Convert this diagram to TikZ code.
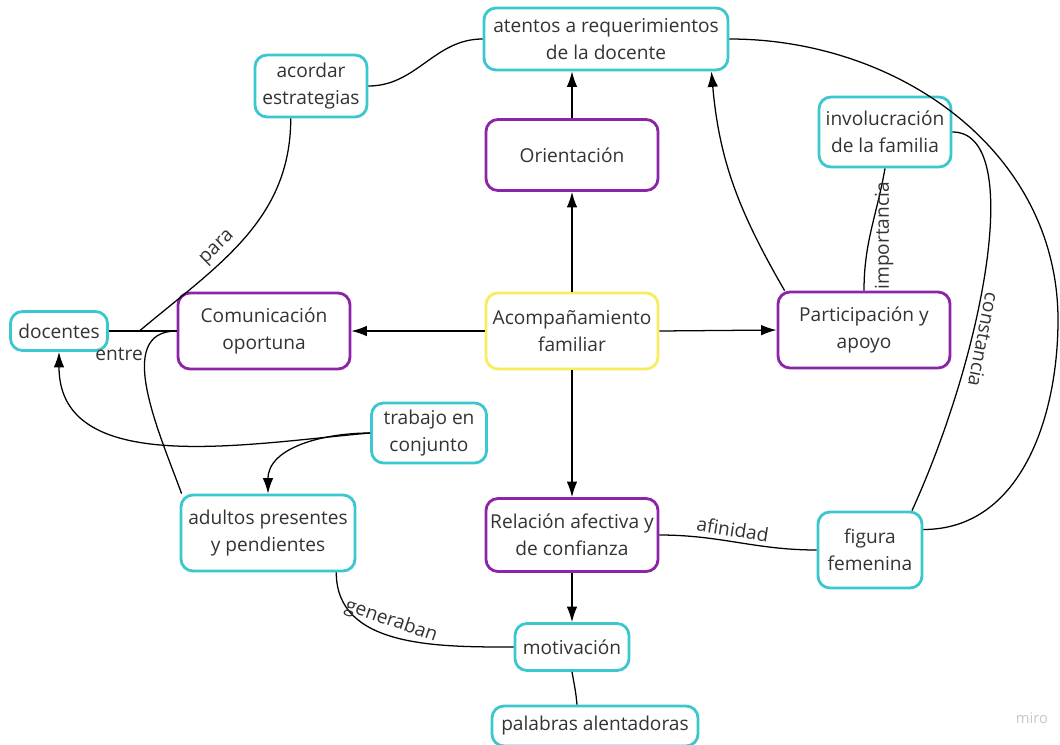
\documentclass[tikz,border=0pt]{standalone}
\usepackage{fontspec}
\setmainfont{Open Sans}
\usetikzlibrary{arrows.meta}
\definecolor{miroCyan}{RGB}{60,199,206}
\definecolor{miroPurple}{RGB}{140,36,168}
\definecolor{miroYellow}{RGB}{247,237,96}
\definecolor{miroText}{RGB}{51,51,51}
\tikzset{
	concepto/.style={draw, rounded corners=0.3cm, line width=2pt, align=center, fill=white, text=miroText, font=\fontsize{13.6}{19.5}\selectfont, inner sep=2pt},
	azul/.style={concepto, draw=miroCyan},
	morado/.style={concepto, draw=miroPurple, minimum width=4.3cm, minimum height=1.9cm},
	amarillo/.style={concepto, draw=miroYellow, minimum width=4.3cm, minimum height=1.9cm},
	enlace/.style={line width=0.9pt},
	flecha/.style={enlace, -{Latex[length=11pt,width=7.5pt]}},
	etiqueta/.style={text=miroText, font=\fontsize{13.6}{16}\selectfont, inner sep=3pt}
}

\begin{document}
\begin{tikzpicture}[x=0.025cm, y=0.025cm]
			%%%%% START %%%%%
			\useasboundingbox (0,0) rectangle (1060,-744);
			
			\node[azul, minimum width=6.1cm, minimum height=1.55cm] (atentos) at (606,-39) {atentos a requerimientos\\de la docente};
			\node[azul, minimum width=2.8cm, minimum height=1.55cm] (acordar) at (311,-86) {acordar\\estrategias};
			\node[morado, minimum height=1.775cm] (orient) at (572,-155) {Orientación};
			\node[azul, minimum width=3.3cm, minimum height=1.75cm] (involuc) at (885,-132) {involucración\\de la familia};
			
			\node[azul, minimum width=2.425cm, minimum height=0.975cm] (docentes) at (59,-331) {docentes};
			\node[morado] (comunic) at (264,-331) {Comunicación\\oportuna};
			\node[amarillo] (acomp) at (572,-331) {Acompañamiento\\familiar};
			\node[morado] (particip) at (864,-330) {Participación y\\apoyo};
			
			\node[azul, minimum width=2.875cm, minimum height=1.5cm] (trabajo) at (429,-433) {trabajo en\\conjunto};
			\node[azul, minimum width=4.35cm, minimum height=1.9cm] (adultos) at (268,-533) {adultos presentes\\y pendientes};
			\node[morado, minimum height=1.825cm] (relacion) at (572,-535) {Relación afectiva y\\de confianza};
			\node[azul, minimum width=2.6cm, minimum height=1.9cm] (figura) at (870,-550) {figura\\femenina};
			\node[azul, minimum width=2.85cm, minimum height=1.175cm] (motiv) at (572,-647) {motivación};
			\node[azul, minimum width=5.15cm, minimum height=1cm] (palabras) at (595,-726) {palabras alentadoras};
			
			\node[text=black!22, font=\fontsize{10.5}{12}\selectfont] (marca) at (1032,-718) {miro};
			
			% desde el centro
			\draw[flecha] (acomp.north) -- (orient.south);
			\draw[flecha] (orient.north) -- (orient.north |- atentos.south);
			\draw[flecha] (acomp.west) -- (comunic.east);
			\draw[flecha] (acomp.east) -- (particip.west);
			\draw[flecha] (acomp.south) -- (relacion.north);
			\draw[flecha] (relacion.south) -- (motiv.north);
			\draw[enlace] (motiv.south) to[out=-80,in=95] ([xshift=-0.45cm]palabras.north);
			
			% lado izquierdo
			\draw[enlace] (acordar.east) to[out=0,in=180] (atentos.west);
			\draw[enlace] (docentes.east) -- node[pos=0.15, below, yshift=-0.3cm, etiqueta] {entre} coordinate[pos=0.45] (para) (comunic.west);
			\draw[enlace] (para) to[out=40,in=-90] node[pos=0.4, sloped, above, etiqueta] {para} (acordar.238);
			\draw[enlace] (comunic.west) to[out=180,in=110] ([xshift=0.05cm]adultos.north west);
			\draw[flecha] (trabajo.west) to[out=185,in=-90] (docentes.south);
			\draw[flecha] (trabajo.west) to[out=180,in=90] (adultos.north);
			\draw[enlace] (adultos.-30) to[out=-90,in=180] node[pos=0.45, sloped, above, inner sep=5pt, etiqueta] {generaban} (motiv.west);
			
			% lado derecho
			\draw[flecha] ([xshift=0.2cm]particip.north west) to[out=120,in=-85] ([xshift=-0.45cm]atentos.south east);
			\draw[enlace] (involuc.south) to[out=-100,in=90] node[pos=0.56, anchor=north, rotate=90, inner sep=9pt, etiqueta] {importancia} (particip.north);
			\draw[enlace] (involuc.east) .. controls (1025,-132) and (985,-350) .. ([xshift=1.05cm]figura.north) node[pos=0.66, anchor=south, rotate=-101, inner sep=6pt, etiqueta] {constancia};
			\draw[enlace] (atentos.east) to[out=0,in=90] (1058,-320) to[out=-90,in=0] (figura.21);
			\draw[enlace] (relacion.east) to[out=0,in=180] node[pos=0.45, sloped, above, etiqueta] {afinidad} (figura.west);
			
			%%%%% END %%%%%
\end{tikzpicture}
\end{document}
